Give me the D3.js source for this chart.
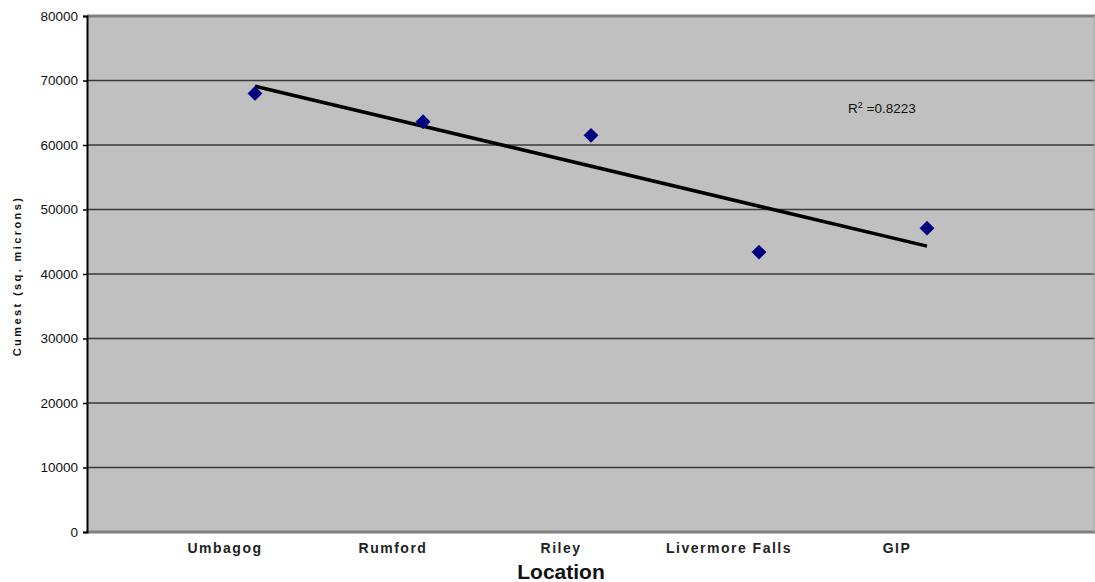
<!DOCTYPE html>
<html>
<head>
<meta charset="utf-8">
<script src="https://cdn.jsdelivr.net/npm/d3@7"></script>
<style>
  body { margin: 0; background: #fff; }
  text { font-family: Arial, "Liberation Sans", sans-serif; }
</style>
</head>
<body>
<script>
// chart data
const locations = ['Umbagog', 'Rumford', 'Riley', 'Livermore Falls', 'GIP'];
const cumest = [68000, 63600, 61500, 43400, 47100];
const yTicks = [0, 10000, 20000, 30000, 40000, 50000, 60000, 70000, 80000];
const rSquaredLabel = '0.8223';

const margin = {top: 16, right: 0, bottom: 50, left: 87};
const width = 1095 - margin.left - margin.right;
const height = 582 - margin.top - margin.bottom;

const svg = d3.select("body").append("svg")
    .attr("width", 1095)
    .attr("height", 582)
    .append("g")
    .attr("transform", "translate(" + margin.left + "," + margin.top + ")");

// XScale: categories sit at 1..5 on a 0..6 axis
const xScale = d3.scaleLinear()
    .domain([0, locations.length + 1])
    .range([0, width]);

// YScale
const yScale = d3.scaleLinear()
    .domain([0, 80000])
    .range([height, 0]);

// plot background
svg.append("rect")
    .attr("width", width)
    .attr("height", height)
    .attr("fill", "#c0c0c0");

// gridlines
svg.selectAll(".grid")
    .data(yTicks.filter(d => d > 0 && d < 80000))
    .enter().append("line")
    .attr("x1", 0)
    .attr("x2", width)
    .attr("y1", d => yScale(d))
    .attr("y2", d => yScale(d))
    .attr("stroke", "#3a3a3a")
    .attr("stroke-width", 1.5);

// top / bottom borders
svg.append("line")
    .attr("x1", 0).attr("x2", width)
    .attr("y1", yScale(80000)).attr("y2", yScale(80000))
    .attr("stroke", "#808080").attr("stroke-width", 3);
svg.append("line")
    .attr("x1", 0).attr("x2", width)
    .attr("y1", yScale(0)).attr("y2", yScale(0))
    .attr("stroke", "#808080").attr("stroke-width", 3);
svg.append("line")
    .attr("x1", width - 1).attr("x2", width - 1)
    .attr("y1", 0).attr("y2", height)
    .attr("stroke", "#a8a8a8").attr("stroke-width", 1);

// y axis
const yAxis = svg.append("g")
    .call(d3.axisLeft(yScale).tickValues(yTicks).tickSize(4).tickPadding(5).tickFormat(d3.format("d")));
yAxis.select(".domain").attr("stroke", "#000").attr("stroke-width", 2);
yAxis.selectAll(".tick line").attr("stroke", "#000").attr("stroke-width", 1.5);
yAxis.selectAll(".tick text")
    .style("font", "13.5px Arial")
    .attr("fill", "#111");

// y axis title
svg.append("text")
    .attr("transform", "translate(" + (-66) + "," + (height / 2 + 2) + ") rotate(-90)")
    .attr("text-anchor", "middle")
    .style("font", "bold 11px Arial")
    .style("letter-spacing", "2.4px")
    .attr("fill", "#111")
    .text("Cumest (sq. microns)");

// category labels
svg.selectAll(".cat")
    .data(locations)
    .enter().append("text")
    .attr("x", (d, i) => xScale(i + 1) - 30)
    .attr("y", height + 21)
    .attr("text-anchor", "middle")
    .style("font", "bold 14px Arial")
    .style("letter-spacing", "1.5px")
    .attr("fill", "#222")
    .text(d => d);

// x axis title
svg.append("text")
    .attr("x", xScale(3) - 30)
    .attr("y", height + 47)
    .attr("text-anchor", "middle")
    .style("font", "bold 21px Arial")
    .attr("fill", "#111")
    .text("Location");

// linear trendline (least squares on category index)
const xs = cumest.map((d, i) => i + 1);
const mx = d3.mean(xs);
const my = d3.mean(cumest);
const slope = d3.sum(xs, (x, i) => (x - mx) * (cumest[i] - my)) / d3.sum(xs, x => (x - mx) * (x - mx));
const intercept = my - slope * mx;
const trend = [1, locations.length].map(x => ({x: x, y: intercept + slope * x}));

svg.append("path")
    .datum(trend)
    .attr("fill", "none")
    .attr("stroke", "#000")
    .attr("stroke-width", 3.5)
    .attr("d", d3.line()
        .x(d => xScale(d.x))
        .y(d => yScale(d.y))
    );

// points
svg.selectAll(".pt")
    .data(cumest)
    .enter().append("path")
    .attr("transform", (d, i) => "translate(" + xScale(i + 1) + "," + yScale(d) + ")")
    .attr("d", d3.symbol().type(d3.symbolDiamond2).size(140))
    .attr("fill", "#000080");

// R squared label
const r2 = svg.append("text")
    .attr("x", xScale(4.53))
    .attr("y", yScale(64900))
    .style("font", "13.5px Arial")
    .attr("fill", "#111");
r2.append("tspan").text("R");
r2.append("tspan").attr("dy", -5).style("font-size", "9px").text("2");
r2.append("tspan").attr("dy", 5).text(" =" + rSquaredLabel);
</script>
</body>
</html>
